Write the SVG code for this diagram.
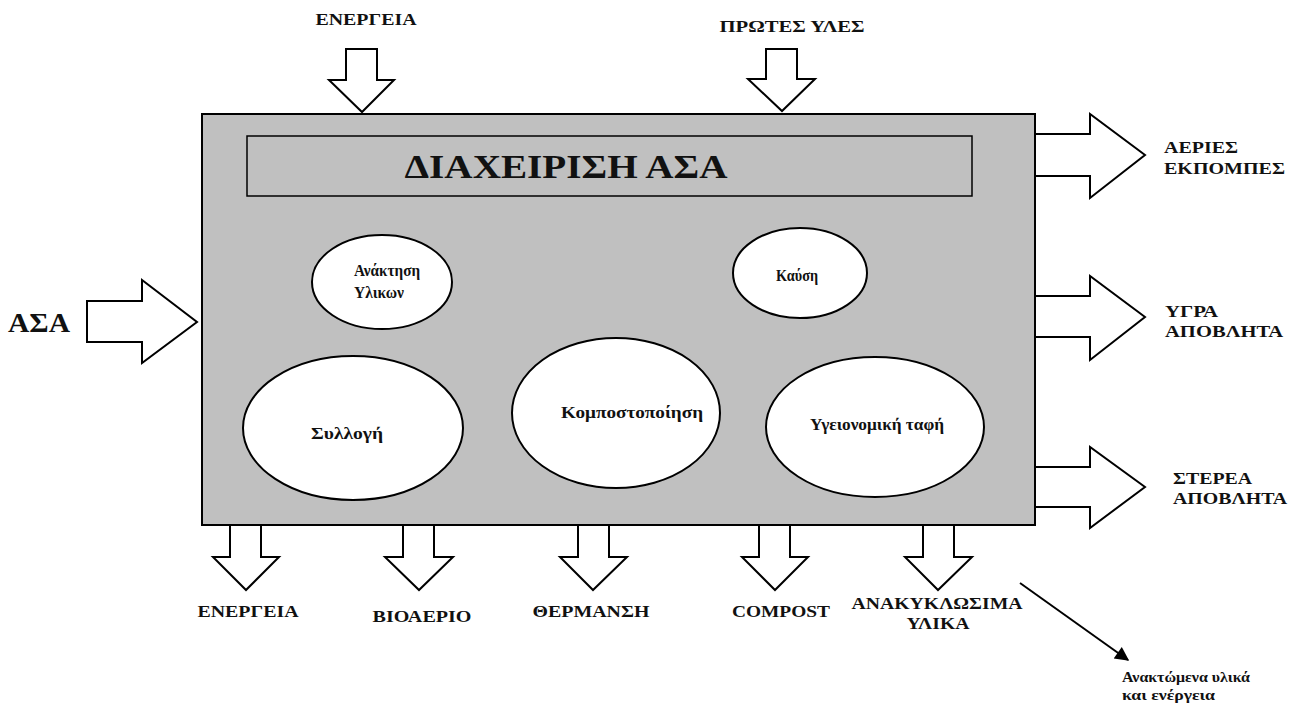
<svg xmlns="http://www.w3.org/2000/svg" width="1300" height="704" viewBox="0 0 1300 704">
  <style>
    .bg { fill: #ffffff; }
    .box { fill: #c0c0c0; stroke: #000; stroke-width: 2; }
    .title { fill: none; stroke: #000; stroke-width: 1.5; }
    .node { fill: #ffffff; stroke: #000; stroke-width: 2; }
    .flow { fill: #ffffff; stroke: #000; stroke-width: 2; stroke-linejoin: miter; }
    .lbl { font-family: "Liberation Serif", "DejaVu Serif", serif; font-weight: bold; font-size: 17px; fill: #111; }
    .big { font-size: 33px; }
    .asa { font-size: 28px; }
    .mid { font-size: 16px; }
    .note { font-size: 14px; }
    .c { text-anchor: middle; }
  </style>
  <defs>
    <marker id="arrowhead" viewBox="0 0 10 10" refX="9" refY="5" markerWidth="16" markerHeight="14" markerUnits="userSpaceOnUse" orient="auto">
      <path d="M0,0 L10,5 L0,10 z" fill="#000"/>
    </marker>
  </defs>

  <rect class="bg" x="0" y="0" width="1300" height="704"/>

  <!-- main system box -->
  <g id="system">
    <rect class="box" x="202" y="114" width="833" height="411"/>
    <rect class="title" x="247" y="136" width="725" height="60"/>
    <text class="lbl big c" x="566" y="178" textLength="323" lengthAdjust="spacingAndGlyphs">ΔΙΑΧΕΙΡΙΣΗ ΑΣΑ</text>
  </g>

  <!-- processes -->
  <g id="anaktisi">
    <ellipse class="node" cx="382" cy="282" rx="70" ry="47"/>
    <text class="lbl mid" x="354" y="276" textLength="66" lengthAdjust="spacingAndGlyphs">Ανάκτηση</text>
    <text class="lbl mid" x="354" y="298" textLength="50" lengthAdjust="spacingAndGlyphs">Υλικων</text>
  </g>
  <g id="kausi">
    <ellipse class="node" cx="800" cy="273" rx="67" ry="45"/>
    <text class="lbl mid c" x="797" y="281" textLength="42" lengthAdjust="spacingAndGlyphs">Καύση</text>
  </g>
  <g id="syllogi">
    <ellipse class="node" cx="353" cy="428" rx="110" ry="72"/>
    <text class="lbl mid c" x="347" y="439" textLength="72" lengthAdjust="spacingAndGlyphs">Συλλογή</text>
  </g>
  <g id="kompost">
    <ellipse class="node" cx="616" cy="413" rx="104" ry="75"/>
    <text class="lbl mid c" x="632" y="418" textLength="142" lengthAdjust="spacingAndGlyphs">Κομποστοποίηση</text>
  </g>
  <g id="tafi">
    <ellipse class="node" cx="875" cy="427" rx="109" ry="70"/>
    <text class="lbl mid c" x="877" y="430" textLength="134" lengthAdjust="spacingAndGlyphs">Υγειονομική ταφή</text>
  </g>

  <!-- flows in and out of the box -->
  <g id="connectors">
    <!-- inputs from above -->
    <polygon class="flow" points="346,49 377,49 377,80 394,80 362,112 329,80 346,80"/>
    <polygon class="flow" points="766,49 797,49 797,79 815,79 782,111 748,79 766,79"/>
    <!-- input from the left -->
    <polygon class="flow" points="87,301 142,301 142,280 197,322 142,363 142,342 87,342"/>
    <!-- outputs to the right -->
    <polygon class="flow" points="1035,134 1090,134 1090,114 1145,155 1090,198 1090,176 1035,176"/>
    <polygon class="flow" points="1035,296 1090,296 1090,276 1145,317 1090,360 1090,337 1035,337"/>
    <polygon class="flow" points="1035,467 1090,467 1090,447 1145,487 1090,528 1090,507 1035,507"/>
    <!-- outputs below -->
    <polygon class="flow" points="230,525 261,525 261,557 279,557 246,590 213,557 230,557"/>
    <polygon class="flow" points="403,525 434,525 434,557 453,557 419,590 385,557 403,557"/>
    <polygon class="flow" points="578,525 609,525 609,557 627,557 593,590 560,557 578,557"/>
    <polygon class="flow" points="759,525 790,525 790,557 808,557 775,590 742,557 759,557"/>
    <polygon class="flow" points="923,525 954,525 954,557 972,557 938,590 905,557 923,557"/>
    <!-- recovered products pointer -->
    <line x1="1020" y1="583" x2="1128" y2="660" stroke="#000" stroke-width="2" marker-end="url(#arrowhead)"/>
  </g>

  <!-- flow labels -->
  <g id="labels">
    <text class="lbl c" x="366" y="25" textLength="101" lengthAdjust="spacingAndGlyphs">ΕΝΕΡΓΕΙΑ</text>
    <text class="lbl c" x="792" y="32" textLength="145" lengthAdjust="spacingAndGlyphs">ΠΡΩΤΕΣ ΥΛΕΣ</text>
    <text class="lbl asa" x="8" y="332" textLength="62" lengthAdjust="spacingAndGlyphs">ΑΣΑ</text>
    <text class="lbl" x="1164" y="153" textLength="74" lengthAdjust="spacingAndGlyphs">ΑΕΡΙΕΣ</text>
    <text class="lbl" x="1164" y="174" textLength="121" lengthAdjust="spacingAndGlyphs">ΕΚΠΟΜΠΕΣ</text>
    <text class="lbl" x="1165" y="317" textLength="53" lengthAdjust="spacingAndGlyphs">ΥΓΡΑ</text>
    <text class="lbl" x="1165" y="337" textLength="118" lengthAdjust="spacingAndGlyphs">ΑΠΟΒΛΗΤΑ</text>
    <text class="lbl" x="1173" y="484" textLength="79" lengthAdjust="spacingAndGlyphs">ΣΤΕΡΕΑ</text>
    <text class="lbl" x="1173" y="504" textLength="114" lengthAdjust="spacingAndGlyphs">ΑΠΟΒΛΗΤΑ</text>
    <text class="lbl c" x="248" y="617" textLength="101" lengthAdjust="spacingAndGlyphs">ΕΝΕΡΓΕΙΑ</text>
    <text class="lbl c" x="422" y="622" textLength="99" lengthAdjust="spacingAndGlyphs">ΒΙΟΑΕΡΙΟ</text>
    <text class="lbl c" x="591" y="617" textLength="117" lengthAdjust="spacingAndGlyphs">ΘΕΡΜΑΝΣΗ</text>
    <text class="lbl c" x="781" y="617" textLength="98" lengthAdjust="spacingAndGlyphs">COMPOST</text>
    <text class="lbl c" x="937" y="609" textLength="171" lengthAdjust="spacingAndGlyphs">ΑΝΑΚΥΚΛΩΣΙΜΑ</text>
    <text class="lbl c" x="938" y="629" textLength="63" lengthAdjust="spacingAndGlyphs">ΥΛΙΚΑ</text>
    <text class="lbl note" x="1122" y="682" textLength="128" lengthAdjust="spacingAndGlyphs">Ανακτώμενα υλικά</text>
    <text class="lbl note" x="1122" y="700" textLength="93" lengthAdjust="spacingAndGlyphs">και ενέργεια</text>
  </g>
</svg>
